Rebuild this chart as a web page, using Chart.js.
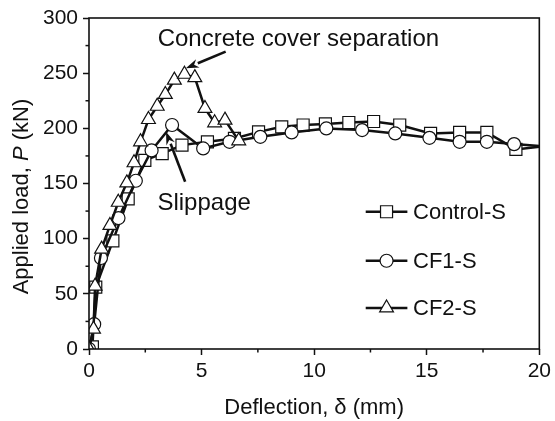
<!DOCTYPE html>
<html><head><meta charset="utf-8">
<script src="https://cdn.jsdelivr.net/npm/chart.js@4.4.0/dist/chart.umd.min.js"></script>
<style>html,body{margin:0;padding:0;background:#fff;}#wrap{width:555px;height:421px;}</style>
</head><body><div id="wrap"><canvas id="c" width="555" height="421"></canvas></div>
<script>
// ---- data ----
const seriesNames = ['Control-S', 'CF1-S', 'CF2-S'];
const controlX = [0.15, 0.3, 1.06, 1.74, 2.48, 3.25, 4.13, 5.26, 6.46, 7.53, 8.56, 9.51, 10.5, 11.54, 12.64, 13.8, 15.17, 16.46, 17.67, 18.96, 20];
const controlY = [2, 56, 98, 136, 171, 177, 184.8, 187.8, 190.8, 196.8, 201.4, 203, 204, 205.3, 206.2, 203, 195.4, 196.3, 196.3, 180.9, 183.3];
const cf1X = [0, 0.23, 0.53, 1.31, 2.08, 2.78, 3.69, 5.07, 6.24, 7.61, 9.0, 10.54, 12.13, 13.6, 15.12, 16.46, 17.67, 18.88, 20];
const cf1Y = [0, 22.5, 82.5, 118.7, 152.5, 180, 203, 181.8, 187.8, 192.3, 196.3, 199.9, 198.4, 195.4, 191.4, 187.8, 187.8, 185.7, 184];
const cf2X = [0, 0.2, 0.27, 0.56, 0.93, 1.3, 1.68, 2.0, 2.29, 2.64, 3.03, 3.39, 3.79, 4.24, 4.70, 5.15, 5.58, 6.04, 6.65];
const cf2Y = [0, 18, 57, 90.5, 112, 133, 150.6, 168.8, 187.8, 208, 220, 230.7, 243.7, 249, 246, 218, 205, 207.4, 188.7];
const xMinorTicks = [2.5, 7.5, 12.5, 17.5];
const yMinorTicks = [25, 75, 125, 175, 225, 275];
const xTitle = 'Deflection, \u03B4 (mm)';
const yTitleParts = ['Applied load, ', 'P', ' (kN)'];
const annoCover = 'Concrete cover separation';
const annoSlip = 'Slippage';

const FONT = '"Liberation Sans", Arial, Helvetica, sans-serif';
const INK = '#111';
const styles = [
  {pointStyle: 'rect', radius: 8.5},
  {pointStyle: 'circle', radius: 6.5},
  {pointStyle: 'triangle', radius: 8}
];
const zip = (xs, ys) => xs.map((v, i) => ({x: v, y: ys[i]}));

function drawMarker(ctx, style, r, x, y) {
  ctx.beginPath();
  if (style === 'rect') {
    const s = Math.SQRT1_2 * r;
    ctx.rect(x - s, y - s, 2 * s, 2 * s);
  } else if (style === 'circle') {
    ctx.arc(x, y, r, 0, Math.PI * 2);
  } else {
    let rad = 0;
    ctx.moveTo(x + Math.sin(rad) * r, y - Math.cos(rad) * r);
    rad += 2 * Math.PI / 3;
    ctx.lineTo(x + Math.sin(rad) * r, y - Math.cos(rad) * r);
    rad += 2 * Math.PI / 3;
    ctx.lineTo(x + Math.sin(rad) * r, y - Math.cos(rad) * r);
    ctx.closePath();
  }
  ctx.fillStyle = '#fff'; ctx.fill();
  ctx.lineWidth = 1.2; ctx.strokeStyle = INK; ctx.stroke();
}

function arrow(ctx, x1, y1, x2, y2) {
  const ang = Math.atan2(y2 - y1, x2 - x1);
  const L = 13, W = 4.5;
  const bx = x2 - Math.cos(ang) * L, by = y2 - Math.sin(ang) * L;
  ctx.beginPath(); ctx.moveTo(x1, y1); ctx.lineTo(bx, by);
  ctx.lineWidth = 2.6; ctx.strokeStyle = INK; ctx.stroke();
  ctx.beginPath();
  ctx.moveTo(x2, y2);
  ctx.lineTo(bx + Math.sin(ang) * W, by - Math.cos(ang) * W);
  ctx.lineTo(x2 - Math.cos(ang) * (L - 4), y2 - Math.sin(ang) * (L - 4));
  ctx.lineTo(bx - Math.sin(ang) * W, by + Math.cos(ang) * W);
  ctx.closePath(); ctx.fillStyle = INK; ctx.fill();
}

const decor = {
  id: 'decor',
  afterDraw(chart) {
    const {ctx, chartArea: a, scales: {x, y}} = chart;
    ctx.save();
    // frame
    ctx.strokeStyle = INK; ctx.lineWidth = 1.6;
    ctx.strokeRect(a.left, a.top, a.right - a.left, a.bottom - a.top);
    // minor ticks (outward)
    ctx.lineWidth = 1.5;
    xMinorTicks.forEach(v => { const p = x.getPixelForValue(v); ctx.beginPath(); ctx.moveTo(p, a.bottom); ctx.lineTo(p, a.bottom + 3.5); ctx.stroke(); });
    yMinorTicks.forEach(v => { const p = y.getPixelForValue(v); ctx.beginPath(); ctx.moveTo(a.left, p); ctx.lineTo(a.left - 3.5, p); ctx.stroke(); });

    ctx.fillStyle = INK;
    // x title
    ctx.font = '22px ' + FONT; ctx.textAlign = 'center'; ctx.textBaseline = 'middle';
    ctx.fillText(xTitle, (a.left + a.right) / 2, 408);
    // y title (with italic P)
    ctx.save();
    ctx.translate(22, 196.5); ctx.rotate(-Math.PI / 2);
    const fonts = ['22px ' + FONT, 'italic 22px ' + FONT, '22px ' + FONT];
    let tot = 0; const ws = yTitleParts.map((t, i) => { ctx.font = fonts[i]; const w = ctx.measureText(t).width; tot += w; return w; });
    let cx = -tot / 2; ctx.textAlign = 'left';
    yTitleParts.forEach((t, i) => { ctx.font = fonts[i]; ctx.fillText(t, cx, 0); cx += ws[i]; });
    ctx.restore();

    // annotations
    ctx.font = '24px ' + FONT; ctx.textAlign = 'center'; ctx.textBaseline = 'middle'; ctx.fillStyle = INK;
    ctx.fillText(annoCover, x.getPixelForValue(9.3), y.getPixelForValue(280.5));
    arrow(ctx, x.getPixelForValue(6.07), y.getPixelForValue(269.5), x.getPixelForValue(4.3), y.getPixelForValue(254.4));
    ctx.textAlign = 'left'; ctx.fillStyle = INK;
    ctx.fillText(annoSlip, x.getPixelForValue(3.04), y.getPixelForValue(132.3));
    arrow(ctx, x.getPixelForValue(4.27), y.getPixelForValue(151.6), x.getPixelForValue(3.42), y.getPixelForValue(197));

    // legend
    const legY = [124.4, 80.0, 37.2];
    seriesNames.forEach((n, i) => {
      const py = y.getPixelForValue(legY[i]);
      const x1 = x.getPixelForValue(12.29), x2 = x.getPixelForValue(14.14);
      ctx.beginPath(); ctx.moveTo(x1, py); ctx.lineTo(x2, py); ctx.lineWidth = 2.5; ctx.strokeStyle = INK; ctx.stroke();
      drawMarker(ctx, styles[i].pointStyle, styles[i].radius, (x1 + x2) / 2, py);
      ctx.fillStyle = INK; ctx.font = '22px ' + FONT; ctx.textAlign = 'left'; ctx.textBaseline = 'middle';
      ctx.fillText(n, x.getPixelForValue(14.39), py + 1);
    });
    ctx.restore();
  }
};

const sets = [zip(controlX, controlY), zip(cf1X, cf1Y), zip(cf2X, cf2Y)];
const datasets = sets.map((d, i) => ({
  label: seriesNames[i],
  data: d,
  showLine: true,
  borderColor: INK,
  borderWidth: 2.5,
  pointStyle: styles[i].pointStyle,
  pointRadius: c => (c.raw && c.raw.x >= 20) ? 0 : styles[i].radius,
  pointBorderWidth: 1.2,
  pointBorderColor: INK,
  pointBackgroundColor: '#fff',
  order: 2 - i,
  clip: 0
}));

new Chart(document.getElementById('c'), {
  type: 'scatter',
  data: {datasets},
  options: {
    responsive: false, animation: false,
    layout: {padding: {top: 18, right: 12, left: 0, bottom: 0}},
    plugins: {legend: {display: false}, tooltip: {enabled: false}},
    scales: {
      x: {
        type: 'linear', min: 0, max: 20,
        ticks: {stepSize: 5, font: {family: FONT, size: 21}, color: INK, padding: 4, maxRotation: 0},
        grid: {drawOnChartArea: false, tickLength: 6, tickColor: INK, tickWidth: 1.5},
        border: {display: false},
        afterFit: s => { s.height = 72; }
      },
      y: {
        type: 'linear', min: 0, max: 300,
        ticks: {stepSize: 50, font: {family: FONT, size: 21}, color: INK, padding: 5},
        grid: {drawOnChartArea: false, tickLength: 6, tickColor: INK, tickWidth: 1.5},
        border: {display: false},
        afterFit: s => { s.width = 89; }
      }
    }
  },
  plugins: [decor]
});
</script>
</body></html>
